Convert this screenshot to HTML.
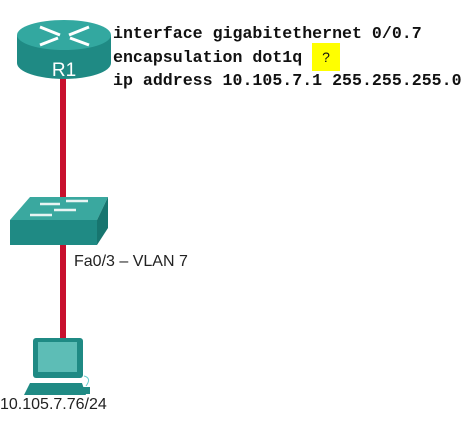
<!DOCTYPE html>
<html><head><style>
body{margin:0;width:466px;height:421px;background:#fff;position:relative;overflow:hidden}
.code{position:absolute;left:113px;font-family:"Liberation Mono",monospace;font-size:16.6px;font-weight:bold;color:#111;white-space:pre;line-height:1}
.lbl{position:absolute;font-family:"Liberation Sans",sans-serif;font-size:16px;color:#222;white-space:pre}
</style></head><body>
<svg width="466" height="421" style="position:absolute;left:0;top:0">
<rect x="60" y="74" width="6" height="130" fill="#c8102e"/>
<rect x="60" y="244" width="6" height="100" fill="#c8102e"/>
<path d="M17 35 L17 63 A47 16 0 0 0 111 63 L111 35 Z" fill="#1f8a84"/>
<ellipse cx="64" cy="35" rx="47" ry="15" fill="#33a8a0"/>
<g stroke="#fff" stroke-width="3" fill="none">
<path d="M40 27 L60 35"/><path d="M89 27 L69 35"/><path d="M40 45 L58 38"/><path d="M89 45 L70 38"/>
</g>
<text x="64" y="76" font-family="Liberation Sans" font-size="19" fill="#fff" text-anchor="middle">R1</text>
<polygon points="10,220 30,197 108,197 97,220" fill="#3aa89f"/>
<polygon points="97,220 108,197 108,228 97,245" fill="#17756f"/>
<rect x="10" y="220" width="87" height="25" fill="#1f8a84"/>
<g stroke="#e8f4f3" stroke-width="2.5">
<path d="M40 204 L60 204"/><path d="M66 201 L88 201"/><path d="M30 215 L52 215"/><path d="M54 210 L76 210"/>
</g>
<rect x="33" y="338" width="50" height="40" rx="3" fill="#1f8a84"/>
<rect x="38" y="342" width="39" height="30" fill="#5dbdb6"/>
<polygon points="30,383 82,383 86,395 24,395" fill="#1f8a84"/>
<rect x="80" y="387" width="10" height="7" fill="#1f8a84"/>
<path d="M86 386 Q92 378 84 376" stroke="#6cc" fill="none"/>
</svg>
<div style="position:absolute;left:312px;top:43px;width:28px;height:28px;background:#ffff00"></div>
<div class="code" style="top:26px">interface gigabitethernet 0/0.7</div>
<div class="code" style="top:50px">encapsulation dot1q  <span style="font-weight:normal;font-family:'Liberation Sans';font-size:14px">?</span></div>
<div class="code" style="top:73px">ip address 10.105.7.1 255.255.255.0</div>
<div class="lbl" style="left:74px;top:253px">Fa0/3 – VLAN 7</div>
<div class="lbl" style="left:0px;top:396px">10.105.7.76/24</div>
</body></html>
